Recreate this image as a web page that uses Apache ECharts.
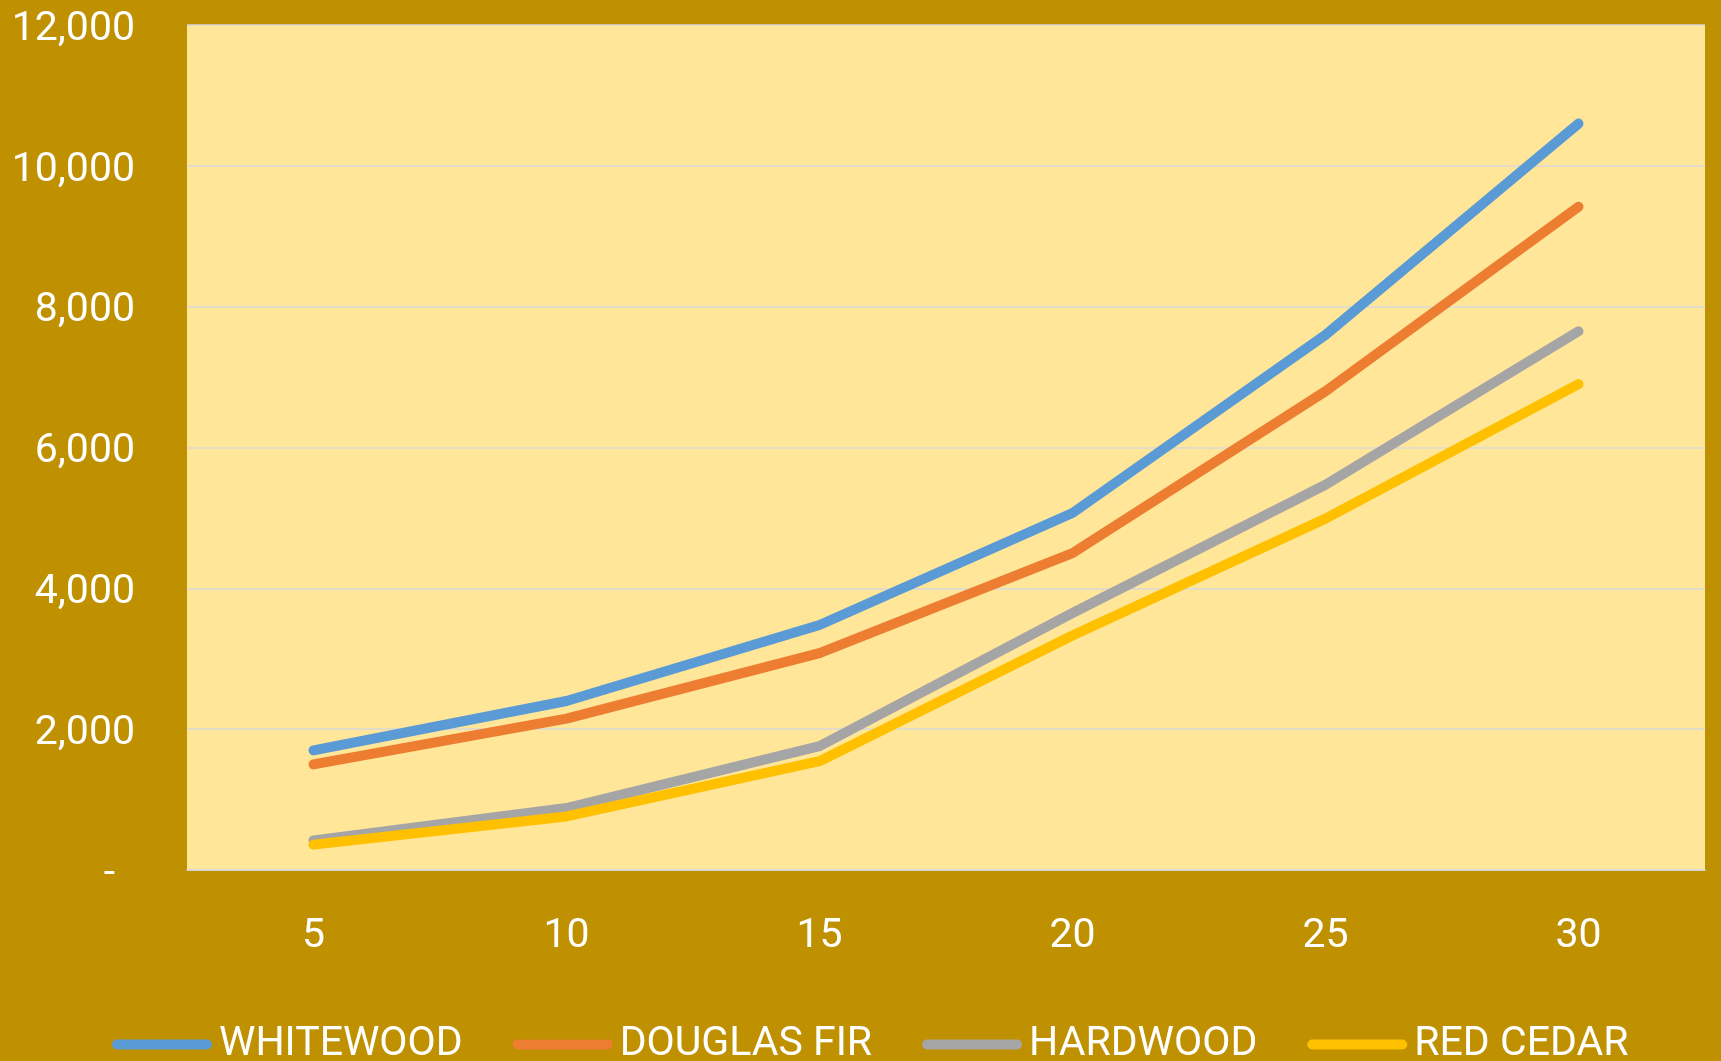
<!DOCTYPE html>
<html>
<head>
<meta charset="utf-8">
<title>Lumber cost by length</title>
<script src="https://cdn.jsdelivr.net/npm/echarts@6/dist/echarts.min.js"></script>
<style>
  html, body { margin: 0; padding: 0; background: #BF9000; }
  #chart { width: 1721px; height: 1061px; }
</style>
</head>
<body>
<div id="chart"></div>
<script>
// Categories (length) and the value of each wood species
const lengths = ['5', '10', '15', '20', '25', '30'];
const whitewood = [1700, 2400, 3480, 5070, 7600, 10600];
const douglasFir = [1500, 2150, 3080, 4500, 6800, 9420];
const hardwood = [420, 880, 1760, 3650, 5470, 7650];
const redCedar = [360, 760, 1545, 3330, 4990, 6900];

const seriesNames = ['WHITEWOOD', 'DOUGLAS FIR', 'HARDWOOD', 'RED CEDAR'];
const seriesColors = ['#5B9BD5', '#ED7D31', '#A5A5A5', '#FFC000'];
const seriesValues = [whitewood, douglasFir, hardwood, redCedar];

const FONT = 'Roboto, "Open Sans", sans-serif';
const TEXT = '#FFFFFF';

const chart = echarts.init(document.getElementById('chart'), null, { renderer: 'canvas' });

chart.setOption({
  animation: false,
  backgroundColor: '#BF9000',
  textStyle: { fontFamily: FONT },
  grid: {
    left: 187, right: 16, top: 25, bottom: 191,
    show: true,
    backgroundColor: '#FFE699',
    borderWidth: 0
  },
  legend: {
    left: 112,
    top: 1024,
    padding: 0,
    itemWidth: 100,
    itemHeight: 10,
    itemGap: 50,
    icon: 'path://M5,0 L95,0 A5,5 0 0 1 95,10 L5,10 A5,5 0 0 1 5,0 Z',
    textStyle: { color: TEXT, fontSize: 41, fontFamily: FONT, padding: [0, 0, 0, 2] },
    data: seriesNames
  },
  xAxis: {
    type: 'category',
    data: lengths,
    boundaryGap: true,
    axisLine: { show: true, lineStyle: { color: '#D9D9D9', width: 1.5 } },
    axisTick: { show: false },
    axisLabel: { color: TEXT, fontSize: 41, fontFamily: FONT, margin: 46 },
    splitLine: { show: false }
  },
  yAxis: {
    type: 'value',
    min: 0,
    max: 12000,
    interval: 2000,
    axisLine: { show: false },
    axisTick: { show: false },
    axisLabel: {
      color: TEXT,
      fontSize: 41,
      fontFamily: FONT,
      margin: 52,
      padding: [9, 0, 0, 0],
      formatter: function (v) {
        if (v === 0) return '{z|-}';
        return v.toLocaleString('en-US');
      },
      rich: {
        z: { color: TEXT, fontSize: 41, fontFamily: FONT, padding: [0, 20, 0, 0] }
      }
    },
    splitLine: { show: true, lineStyle: { color: '#D9D9D9', width: 1.5 } }
  },
  series: seriesNames.map(function (name, i) {
    return {
      name: name,
      type: 'line',
      data: seriesValues[i],
      symbol: 'none',
      smooth: false,
      color: seriesColors[i],
      lineStyle: { width: 10, color: seriesColors[i], cap: 'round', join: 'round' }
    };
  })
});
</script>
</body>
</html>
